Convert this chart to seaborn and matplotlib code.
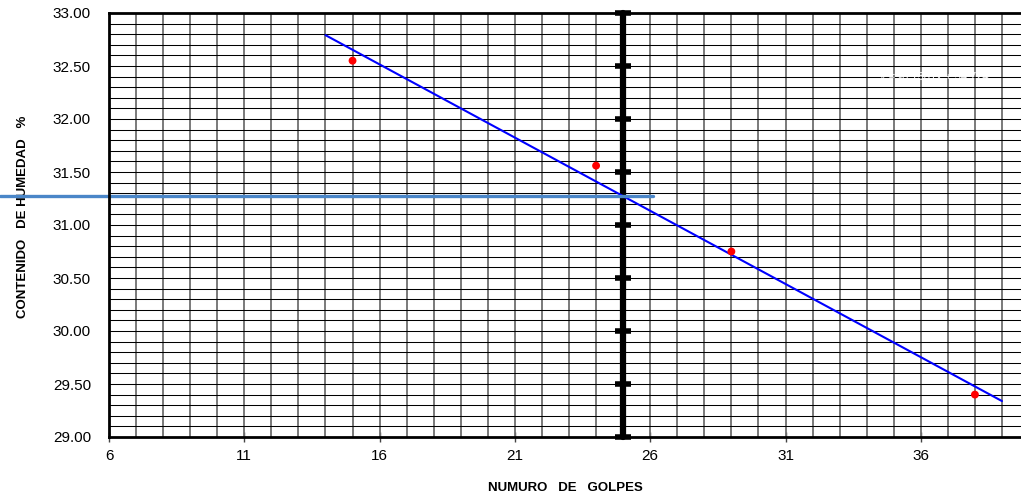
import numpy as np
import pandas as pd
import matplotlib
matplotlib.use("Agg")
import matplotlib.pyplot as plt
import seaborn as sns

# Ensayo de límite líquido: número de golpes vs contenido de humedad
golpes = [15, 24, 29, 38]
humedad = [32.55, 31.56, 30.75, 29.40]
golpes_ref = 25
x_ticks = [6, 11, 16, 21, 26, 31, 36]
y_ticks = [29.00, 29.50, 30.00, 30.50, 31.00, 31.50, 32.00, 32.50, 33.00]

sns.set_theme(style="white")
plt.rcParams["font.family"] = ["Liberation Sans", "DejaVu Sans"]
plt.rcParams["text.color"] = "black"
plt.rcParams["axes.labelcolor"] = "black"
plt.rcParams["xtick.color"] = "black"
plt.rcParams["ytick.color"] = "black"

df = pd.DataFrame({"golpes": golpes, "humedad": humedad})

# Recta de ajuste por mínimos cuadrados
m, b = np.polyfit(golpes, humedad, 1)
x_fit = np.array([14, 39])
fit_df = pd.DataFrame({"golpes": x_fit, "humedad": m * x_fit + b})
w_ref = m * golpes_ref + b

W, H = 1021, 504
fig = plt.figure(figsize=(W / 100, H / 100), dpi=100)
ax = fig.add_axes([109 / W, (H - 437) / H, (W - 109) / W, 424 / H])

x_max = 6 + 912 / 27.06
ax.set_xlim(6, x_max)
ax.set_ylim(29, 33)

# Cuadrícula: verticales cada golpe, horizontales cada 0.1 %
for xv in range(7, 40):
    ax.axvline(xv, color="#707070", lw=1.3, zorder=1)
for yv in np.arange(29.1, 33.0, 0.1):
    ax.axhline(yv, color="black", lw=0.75, zorder=1)

# Línea de referencia en 25 golpes
yy = np.arange(29, 33.01, 0.5)
ax.plot([golpes_ref] * len(yy), yy, color="black", lw=4.5, marker="_",
        markersize=11, mew=4, zorder=3, clip_on=False)

sns.lineplot(data=fit_df, x="golpes", y="humedad", color="#0000ff", lw=1.5,
             ax=ax, zorder=4)
sns.scatterplot(data=df, x="golpes", y="humedad", color="red", s=32,
                edgecolor="none", ax=ax, zorder=5)

# Humedad correspondiente a 25 golpes
ax.plot([6 - 109 / 27.06, 26.1], [w_ref, w_ref], color="#4a86c8", lw=2.4,
        zorder=4, clip_on=False)

ax.text(34.5, 32.40, f"y = {m:.4f}x + {b:.3f}", color="white", fontsize=8,
        va="center", ha="left", zorder=6, clip_on=True)

ax.set_xticks(x_ticks)
ax.set_xticklabels([str(t) for t in x_ticks], fontsize=11)
ax.set_yticks(y_ticks)
ax.set_yticklabels([f"{t:.2f}" for t in y_ticks], fontsize=11)
ax.tick_params(axis="x", direction="inout", length=7, width=1, color="#444444",
               pad=5, bottom=True)
ax.tick_params(axis="y", length=0, pad=13)

for s in ["top", "bottom", "left"]:
    ax.spines[s].set_visible(True)
    ax.spines[s].set_color("black")
    ax.spines[s].set_linewidth(2)
    ax.spines[s].set_zorder(6)
ax.spines["right"].set_visible(False)

ax.set_xlabel("NUMURO   DE   GOLPES", fontsize=9.5, fontweight="bold")
ax.xaxis.set_label_coords(0.5, -0.107)
ax.set_ylabel("CONTENIDO   DE HUMEDAD   %", fontsize=9.5, fontweight="bold")
ax.yaxis.set_label_coords(-0.088, 0.52)

fig.savefig("out.png", dpi=100)
